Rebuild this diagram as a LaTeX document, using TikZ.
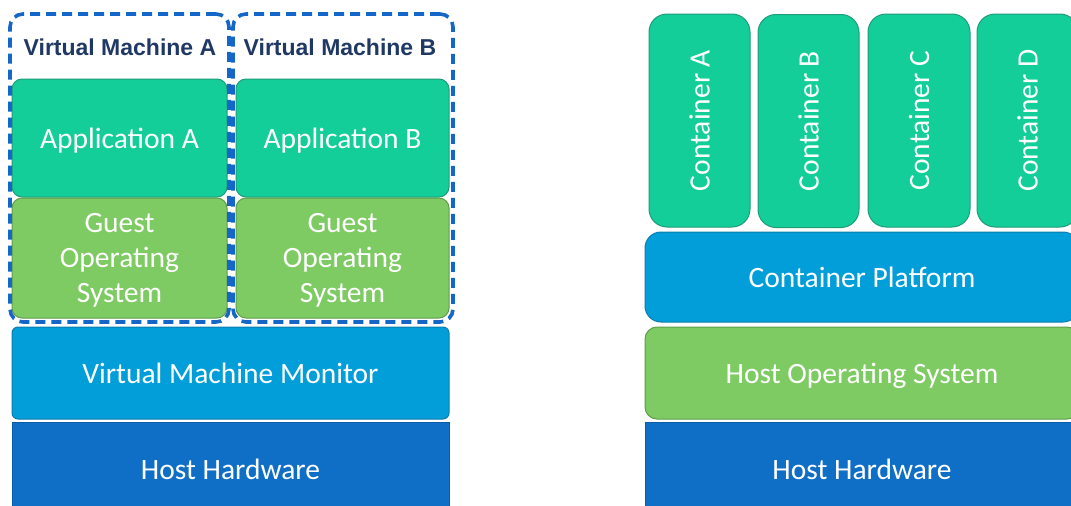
\documentclass[tikz,border=0pt]{standalone}
\usepackage{fontspec}
\setmainfont{Carlito}
\newfontfamily\titlefont{Liberation Sans}
\definecolor{appgreen}{HTML}{13CE99}
\definecolor{appedge}{HTML}{1E9C78}
\definecolor{osgreen}{HTML}{7ECA63}
\definecolor{osedge}{HTML}{5E9E4A}
\definecolor{midblue}{HTML}{029ED9}
\definecolor{midedge}{HTML}{0B7DAE}
\definecolor{hwblue}{HTML}{0F6FC6}
\definecolor{hwedge}{HTML}{0B5CA8}
\definecolor{dashblue}{HTML}{1466C8}
\definecolor{navy}{HTML}{1F3864}
\begin{document}
\begin{tikzpicture}[x=1pt,y=-1pt,
  layer/.style={rectangle, inner sep=0pt, line width=1pt, text=white,
    font=\fontsize{29.5}{35}\selectfont, align=center, text depth=0pt},
  app/.style={layer, fill=appgreen, draw=appedge, rounded corners=10pt},
  gos/.style={layer, fill=osgreen, draw=osedge, rounded corners=10pt},
  mid/.style={layer, fill=midblue, draw=midedge},
  hw/.style={layer, fill=hwblue, draw=hwedge},
  cont/.style={layer, fill=appgreen, draw=appedge, rounded corners=18pt, rotate=90,
    minimum width=213pt, minimum height=101pt},
  vmbox/.style={rectangle, draw=dashblue, line width=3.6pt, dash pattern=on 10pt off 6pt,
    rounded corners=13pt, inner sep=0pt},
  vmtitle/.style={text=navy, font=\titlefont\bfseries\fontsize{23}{27}\selectfont, inner sep=0pt}
]
\useasboundingbox (0,0) rectangle (1071,506);
\clip (0,0) rectangle (1071,506);
% left stack
\node[app, minimum width=215pt, minimum height=118pt] (appA) at (119.5,138) {Application A};
\node[gos, minimum width=215pt, minimum height=120pt] (gosA) at (119.5,258) {Guest\\Operating\\System};
\node[app, minimum width=213pt, minimum height=118pt] (appB) at (342.5,138) {Application B};
\node[gos, minimum width=213pt, minimum height=120pt] (gosB) at (342.5,258) {Guest\\Operating\\System};
\node[mid, rounded corners=6pt, minimum width=437pt, minimum height=92pt] (vmm) at (230.5,373) {Virtual Machine Monitor};
\node[hw, minimum width=437pt, minimum height=94pt] (hwL) at (230.5,469) {Host Hardware};
\node[vmbox, minimum width=219pt, minimum height=308pt] (vmA) at (119.5,168) {};
\node[vmbox, minimum width=220pt, minimum height=308pt] (vmB) at (343,168) {};
\node[vmtitle] (tA) at (120,47) {Virtual Machine A};
\node[vmtitle] (tB) at (340,47) {Virtual Machine B};
% right stack
\node[cont] (cA) at (699.5,120.5) {Container A};
\node[cont] (cB) at (808.5,121) {Container B};
\node[cont, minimum height=102pt] (cC) at (919,120.5) {Container C};
\node[cont] (cD) at (1027.5,120.5) {Container D};
\node[mid, rounded corners=16pt, minimum width=434pt, minimum height=90pt] (plat) at (862,277) {Container Platform};
\node[gos, rounded corners=12pt, minimum width=434pt, minimum height=92pt] (hos) at (862,373) {Host Operating System};
\node[hw, minimum width=434pt, minimum height=94pt] (hwR) at (862,469) {Host Hardware};
\end{tikzpicture}
\end{document}
